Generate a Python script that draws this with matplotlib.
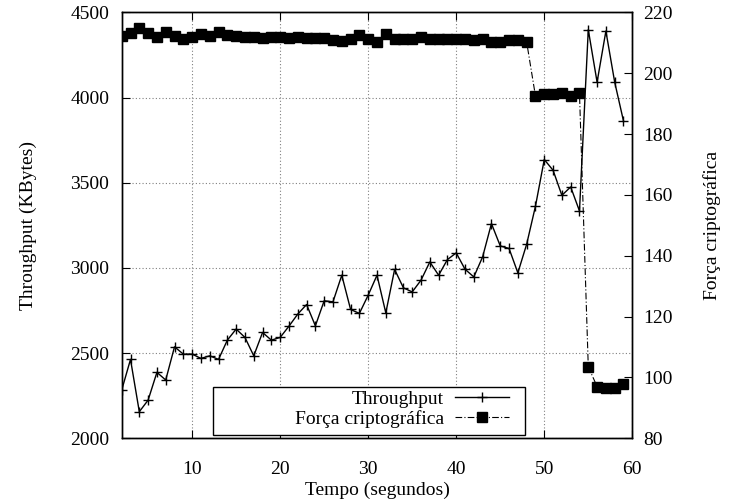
import matplotlib
matplotlib.use("Agg")
import matplotlib.pyplot as plt
from matplotlib.patches import Rectangle
from matplotlib.lines import Line2D

plt.rcParams["font.family"] = ["Liberation Serif", "DejaVu Serif"]
plt.rcParams["font.size"] = 14

# tempo (s)
tempo = list(range(2, 60))

throughput = [
    2283, 2463, 2156, 2224, 2387, 2342, 2537, 2494, 2494, 2469,
    2484, 2463, 2576, 2641, 2592, 2484, 2621, 2576, 2592, 2658,
    2729, 2785, 2660, 2807, 2801, 2957, 2756, 2733, 2840, 2957,
    2736, 2991, 2883, 2859, 2928, 3035, 2957, 3049, 3088, 2992,
    2947, 3065, 3260, 3129, 3114, 2971, 3139, 3362, 3636, 3573,
    3426, 3475, 3334, 4398, 4090, 4390, 4090, 3862,
]

forca = [
    212.3, 213.1, 214.7, 213.1, 212.0, 213.6, 212.3, 211.2, 212.0, 212.8,
    212.3, 213.4, 212.5, 212.3, 212.0, 211.8, 211.5, 212.0, 212.0, 211.7,
    212.0, 211.7, 211.5, 211.5, 211.0, 210.6, 211.2, 212.5, 211.2, 210.3,
    212.9, 211.2, 211.2, 211.2, 212.0, 211.2, 211.2, 211.2, 211.2, 211.2,
    211.0, 211.2, 210.2, 210.2, 210.9, 210.9, 210.2, 192.5, 193.0, 193.0,
    193.4, 192.6, 193.4, 103.5, 97.0, 96.4, 96.4, 97.8,
]

x_ticks = [10, 20, 30, 40, 50, 60]
y_ticks = [2000, 2500, 3000, 3500, 4000, 4500]
y2_ticks = [80, 100, 120, 140, 160, 180, 200, 220]

W, H = 730, 503
fig = plt.figure(figsize=(W / 100, H / 100), dpi=100)
left, right, top, bottom = 121.7, 632.3, 12.3, 438.3
ax = fig.add_axes([left / W, 1 - bottom / H, (right - left) / W, (bottom - top) / H])
ax2 = ax.twinx()

dashdot = (0, (6, 2, 1, 2))
ax.plot(tempo, throughput, color="black", lw=1.0, marker="+", ms=6.5, mew=1.0, zorder=3)
ax2.plot(tempo, forca, color="black", lw=0.8, ls=dashdot,
         marker="s", ms=7.5, mec="black", mfc="black", zorder=3)

ax.set_xlim(2, 60)
ax.set_ylim(2000, 4500)
ax2.set_ylim(80, 220)
ax.set_xticks(x_ticks)
ax.set_yticks(y_ticks)
ax2.set_yticks(y2_ticks)

ax.grid(True, color="#808080", ls=(0, (1, 2)), lw=0.8)
ax.set_axisbelow(True)

ax.tick_params(axis="x", direction="in", length=6, width=0.8, top=True, pad=16)
ax.tick_params(axis="y", direction="in", length=6, width=0.8, left=True, right=False, pad=9)
ax2.tick_params(axis="y", direction="in", length=6, width=0.8, pad=8)
for a in (ax, ax2):
    for s in a.spines.values():
        s.set_linewidth(1.0)
        s.set_color("black")

fig.text(28 / W, 1 - 225 / H, "Throughput (KBytes)", rotation=90, ha="center", va="center")
fig.text(712 / W, 1 - 225 / H, "Força criptográfica", rotation=90, ha="center", va="center")
fig.text((left + right) / 2 / W, 1 - 490 / H, "Tempo (segundos)", ha="center", va="center")

# legend box (gnuplot style, opaque)
x0 = (212.7 - left) / (right - left)
x1 = (525 - left) / (right - left)
y0 = (bottom - 435) / (bottom - top)
y1 = (bottom - 386.7) / (bottom - top)
ax2.add_patch(Rectangle((x0, y0), x1 - x0, y1 - y0, transform=ax2.transAxes,
                        facecolor="white", edgecolor="black", lw=1.0, zorder=5))
handles = [
    Line2D([], [], color="black", lw=1.0, marker="+", ms=6.5, mew=1.0),
    Line2D([], [], color="black", lw=0.8, ls=dashdot, marker="s", ms=7.5),
]
leg = ax2.legend(handles, ["Throughput", "Força criptográfica"], loc="lower right",
                 bbox_to_anchor=((513 - left) / (right - left), y0 + 0.008),
                 frameon=False, markerfirst=False, numpoints=1, handlelength=2.8,
                 handletextpad=0.55, labelspacing=0.1, borderpad=0.2, borderaxespad=0)
leg.set_zorder(6)

fig.savefig("out.png", dpi=100)
